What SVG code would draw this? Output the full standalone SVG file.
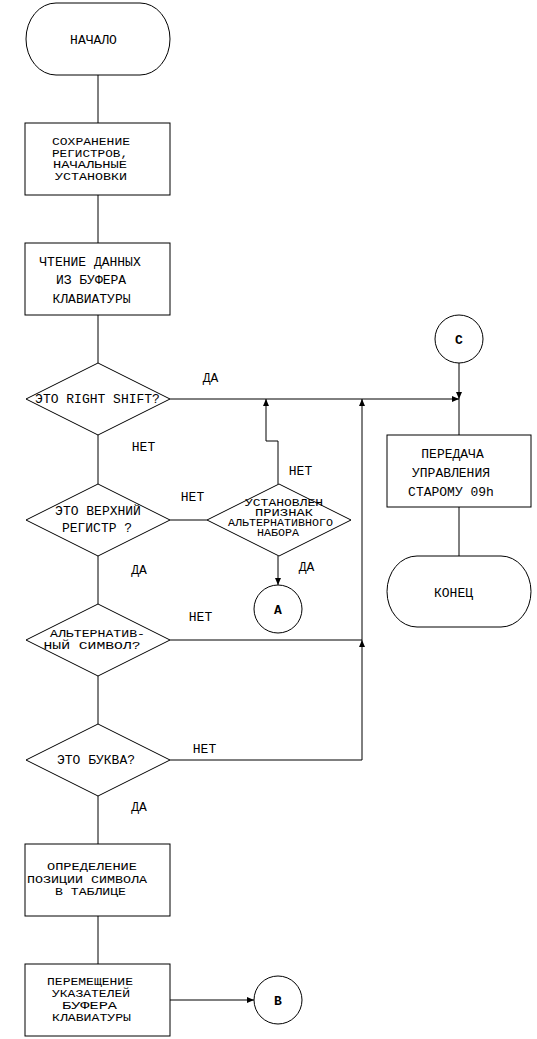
<svg xmlns="http://www.w3.org/2000/svg" width="537" height="1039" viewBox="0 0 537 1039">
<style>
.s{fill:#fff;stroke:#000;stroke-width:1}
.c{fill:none;stroke:#000;stroke-width:1}
text{font-family:"Liberation Mono","DejaVu Sans Mono",monospace;font-size:13px;fill:#000;text-anchor:middle}
.t{font-size:11px}
.u{font-size:10px}
.b{font-weight:bold}
</style>
<defs>
<marker id="ah" markerUnits="userSpaceOnUse" markerWidth="8" markerHeight="8" refX="7" refY="3.5" orient="auto">
<path d="M0,0.5 L7,3.5 L0,6.5 Z" fill="#000"/>
</marker>
</defs>
<rect width="537" height="1039" fill="#fff"/>
<g id="connectors">
<path class="c" d="M98,75 V123 M98,195 V243 M98,315 V363 M98,435 V484 M98,556 V604 M98,676 V724 M98,796 V844 M98,916 V964"/>
<path class="c" d="M170,399 H459" marker-end="url(#ah)"/>
<path class="c" d="M459,363 V399" marker-end="url(#ah)"/>
<path class="c" d="M459,399 V435 M459,507 V556"/>
<path class="c" d="M170,520 H207"/>
<path class="c" d="M278,484 V441 H266 V399" marker-end="url(#ah)"/>
<path class="c" d="M278,556 V585" marker-end="url(#ah)"/>
<path class="c" d="M170,640 H362"/>
<path class="c" d="M170,760 H362 V640" marker-end="url(#ah)"/>
<path class="c" d="M362,640 V399" marker-end="url(#ah)"/>
<path class="c" d="M170,1000 H254" marker-end="url(#ah)"/>
<text x="210.5" y="382">ДА</text>
<text x="143.5" y="451">НЕТ</text>
<text x="192.5" y="501">НЕТ</text>
<text x="139" y="574">ДА</text>
<text x="200.5" y="621">НЕТ</text>
<text x="204.5" y="753">НЕТ</text>
<text x="139" y="811">ДА</text>
<text x="300.5" y="475">НЕТ</text>
<text x="306.5" y="571">ДА</text>
</g>
<g id="start">
<rect class="s" x="26" y="3" width="144" height="72" rx="30" ry="36"/>
<text x="93.5" y="44">НАЧАЛО</text>
</g>
<g id="save">
<rect class="s" x="25" y="123" width="145" height="72"/>
<text class="t" x="91" y="145" textLength="78" lengthAdjust="spacingAndGlyphs">СОХРАНЕНИЕ</text>
<text class="t" x="90" y="157" textLength="76" lengthAdjust="spacingAndGlyphs">РЕГИСТРОВ,</text>
<text class="t" x="90" y="168" textLength="74" lengthAdjust="spacingAndGlyphs">НАЧАЛЬНЫЕ</text>
<text class="t" x="91" y="180" textLength="72" lengthAdjust="spacingAndGlyphs">УСТАНОВКИ</text>
</g>
<g id="read">
<rect class="s" x="25" y="243" width="145" height="72"/>
<text x="90" y="266">ЧТЕНИЕ ДАННЫХ</text>
<text x="91" y="284">ИЗ БУФЕРА</text>
<text x="91.5" y="303">КЛАВИАТУРЫ</text>
</g>
<g id="d-rshift">
<polygon class="s" points="98,363 170,399 98,435 26,399"/>
<text x="97.5" y="403">ЭТО RIGHT SHIFT?</text>
</g>
<g id="d-upper">
<polygon class="s" points="98,484 170,520 98,556 26,520"/>
<text x="98" y="515">ЭТО ВЕРХНИЙ</text>
<text x="97" y="532">РЕГИСТР ?</text>
</g>
<g id="d-altflag">
<polygon class="s" points="279,484 351,520 279,556 207,520"/>
<text class="u" x="284" y="506" textLength="78" lengthAdjust="spacingAndGlyphs">УСТАНОВЛЕН</text>
<text class="u" x="284" y="516" textLength="58" lengthAdjust="spacingAndGlyphs">ПРИЗНАК</text>
<text class="u" x="280.5" y="526" textLength="105" lengthAdjust="spacingAndGlyphs">АЛЬТЕРНАТИВНОГО</text>
<text class="u" x="278" y="536" textLength="42" lengthAdjust="spacingAndGlyphs">НАБОРА</text>
</g>
<g id="d-altsym">
<polygon class="s" points="98,604 170,640 98,676 26,640"/>
<text class="t" x="97.5" y="637" textLength="95" lengthAdjust="spacingAndGlyphs">АЛЬТЕРНАТИВ-</text>
<text class="t" x="92" y="649" textLength="97" lengthAdjust="spacingAndGlyphs">НЫЙ СИМВОЛ?</text>
</g>
<g id="d-letter">
<polygon class="s" points="98,724 170,760 98,796 26,760"/>
<text x="96" y="764">ЭТО БУКВА?</text>
</g>
<g id="pos">
<rect class="s" x="25" y="844" width="145" height="72"/>
<text class="t" x="92" y="870" textLength="90" lengthAdjust="spacingAndGlyphs">ОПРЕДЕЛЕНИЕ</text>
<text class="t" x="87" y="883" textLength="120" lengthAdjust="spacingAndGlyphs">ПОЗИЦИИ СИМВОЛА</text>
<text class="t" x="90.5" y="895" textLength="71" lengthAdjust="spacingAndGlyphs">В ТАБЛИЦЕ</text>
</g>
<g id="move">
<rect class="s" x="25" y="964" width="145" height="72"/>
<text class="t" x="90" y="985" textLength="86" lengthAdjust="spacingAndGlyphs">ПЕРЕМЕЩЕНИЕ</text>
<text class="t" x="91" y="997" textLength="78" lengthAdjust="spacingAndGlyphs">УКАЗАТЕЛЕЙ</text>
<text class="t" x="89.5" y="1009" textLength="55" lengthAdjust="spacingAndGlyphs">БУФЕРА</text>
<text class="t" x="91.5" y="1021" textLength="79" lengthAdjust="spacingAndGlyphs">КЛАВИАТУРЫ</text>
</g>
<g id="conn-a">
<circle class="s" cx="278" cy="609" r="24"/>
<text class="b" x="278" y="614">A</text>
</g>
<g id="conn-b">
<circle class="s" cx="278" cy="1000" r="24"/>
<text class="b" x="278" y="1005">B</text>
</g>
<g id="conn-c">
<circle class="s" cx="459" cy="339" r="24"/>
<text class="b" x="459" y="344">C</text>
</g>
<g id="transfer">
<rect class="s" x="387" y="435" width="144" height="72"/>
<text x="452.5" y="458">ПЕРЕДАЧА</text>
<text x="451" y="477">УПРАВЛЕНИЯ</text>
<text x="451" y="496">СТАРОМУ 09h</text>
</g>
<g id="end">
<rect class="s" x="387" y="556" width="144" height="71" rx="30" ry="35.5"/>
<text x="453.5" y="597">КОНЕЦ</text>
</g>
</svg>
